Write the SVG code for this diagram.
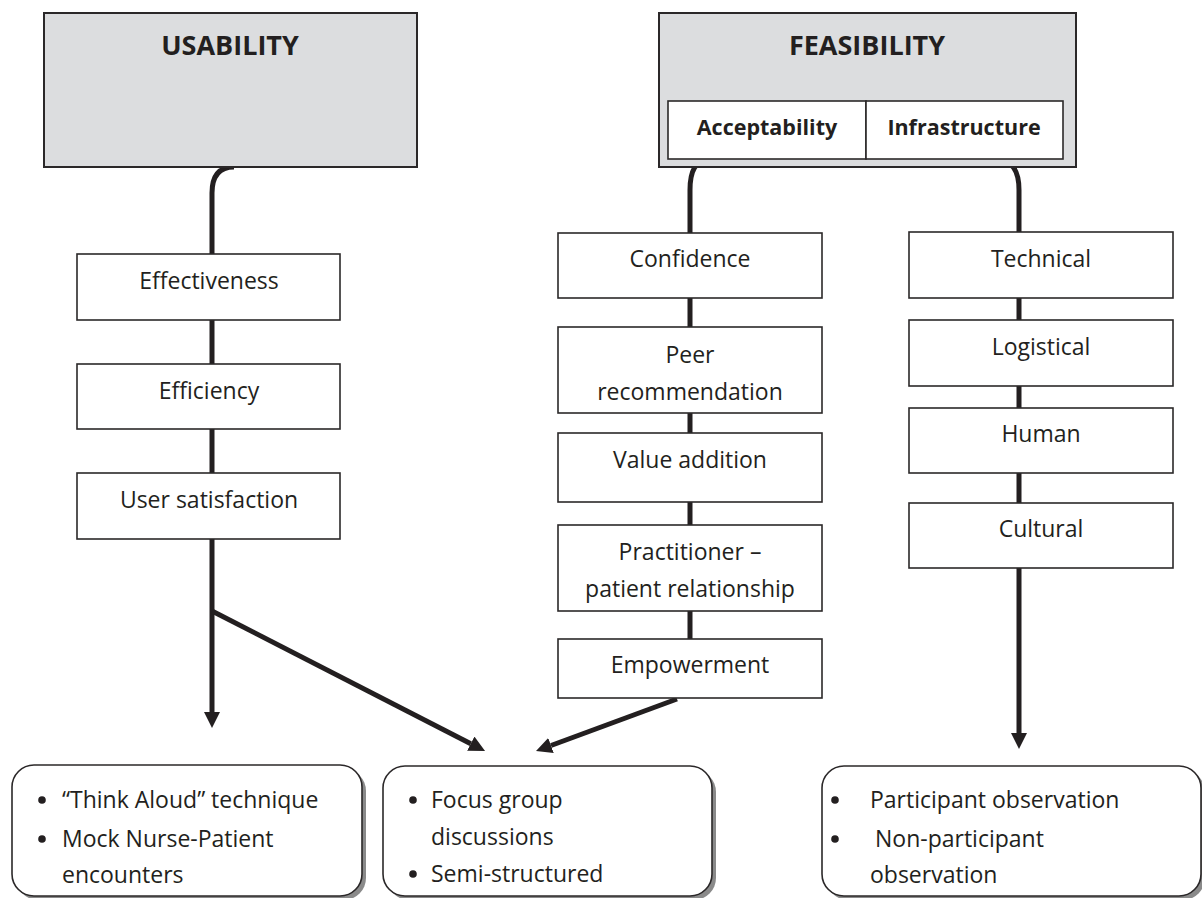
<svg xmlns="http://www.w3.org/2000/svg" width="1202" height="898" viewBox="0 0 1202 898">
<defs>
<style>
.hdr{fill:#dcdddf;stroke:#2b2829;stroke-width:2}
.box{fill:#ffffff;stroke:#2b2829;stroke-width:1.6}
.rbox{fill:#ffffff;stroke:#2b2829;stroke-width:1.6}
.shadow{fill:#8a8a8a}
.conn{fill:none;stroke:#231f20;stroke-width:5}
text{font-family:"Open Sans","Liberation Sans",sans-serif;fill:#231f20}
.t{font-size:23px;text-anchor:middle}
.b{font-size:23px}
.h1{font-size:27px;font-weight:bold;text-anchor:middle}
.h2{font-size:21.5px;font-weight:bold;text-anchor:middle}
.dot{fill:#231f20}
</style>
<marker id="ah" viewBox="0 0 16 16" refX="0" refY="8" markerWidth="16" markerHeight="16" markerUnits="userSpaceOnUse" orient="auto">
<path d="M0,0 L16,8 L0,16 Z" fill="#231f20"/>
</marker>
</defs>

<g id="connectors">
<path class="conn" d="M234,167 C219,167 212,176 212,193 V712" marker-end="url(#ah)"/>
<path class="conn" d="M212,611 L470.8,743.7" marker-end="url(#ah)"/>
<path class="conn" d="M708,160 C696,160 690,171 690,190 V640"/>
<path class="conn" d="M677,699 L551,745.5" marker-end="url(#ah)"/>
<path class="conn" d="M998,160 C1012,160 1019,171 1019,190 V733" marker-end="url(#ah)"/>
</g>

<g id="usability">
<rect class="hdr" x="44" y="13" width="373" height="154"/>
<text class="h1" x="230" y="55">USABILITY</text>
</g>

<g id="feasibility">
<rect class="hdr" x="659" y="13" width="417" height="154"/>
<text class="h1" x="867" y="55">FEASIBILITY</text>
<g id="acceptability">
<rect class="box" x="668" y="101" width="198" height="58"/>
<text class="h2" x="767" y="135">Acceptability</text>
</g>
<g id="infrastructure">
<rect class="box" x="866" y="101" width="197" height="58"/>
<text class="h2" x="964" y="135">Infrastructure</text>
</g>
</g>

<g id="effectiveness">
<rect class="box" x="77" y="254" width="263" height="66"/>
<text class="t" x="209" y="289">Effectiveness</text>
</g>
<g id="efficiency">
<rect class="box" x="77" y="364" width="263" height="65"/>
<text class="t" x="209" y="399">Efficiency</text>
</g>
<g id="user-satisfaction">
<rect class="box" x="77" y="473" width="263" height="66"/>
<text class="t" x="209" y="508">User satisfaction</text>
</g>

<g id="confidence">
<rect class="box" x="558" y="233" width="264" height="65"/>
<text class="t" x="690" y="267">Confidence</text>
</g>
<g id="peer-recommendation">
<rect class="box" x="558" y="327" width="264" height="86"/>
<text class="t" x="690" y="363">Peer</text>
<text class="t" x="690" y="400">recommendation</text>
</g>
<g id="value-addition">
<rect class="box" x="558" y="433" width="264" height="69"/>
<text class="t" x="690" y="468">Value addition</text>
</g>
<g id="practitioner">
<rect class="box" x="558" y="525" width="264" height="86"/>
<text class="t" x="690" y="560">Practitioner –</text>
<text class="t" x="690" y="597">patient relationship</text>
</g>
<g id="empowerment">
<rect class="box" x="558" y="639" width="264" height="59"/>
<text class="t" x="690" y="673">Empowerment</text>
</g>

<g id="technical">
<rect class="box" x="909" y="232" width="264" height="66"/>
<text class="t" x="1041" y="267">Technical</text>
</g>
<g id="logistical">
<rect class="box" x="909" y="320" width="264" height="66"/>
<text class="t" x="1041" y="355">Logistical</text>
</g>
<g id="human">
<rect class="box" x="909" y="408" width="264" height="65"/>
<text class="t" x="1041" y="442">Human</text>
</g>
<g id="cultural">
<rect class="box" x="909" y="503" width="264" height="65"/>
<text class="t" x="1041" y="537">Cultural</text>
</g>

<g id="methods-usability">
<rect class="shadow" x="16" y="769" width="350" height="131" rx="22"/>
<rect class="rbox" x="12" y="765" width="350" height="131" rx="22"/>
<circle class="dot" cx="42" cy="800" r="3.8"/>
<text class="b" x="62" y="808">“Think Aloud” technique</text>
<circle class="dot" cx="42" cy="839" r="3.8"/>
<text class="b" x="62" y="847">Mock Nurse-Patient</text>
<text class="b" x="62" y="883">encounters</text>
</g>

<g id="methods-acceptability">
<rect class="shadow" x="387" y="770" width="329" height="130" rx="22"/>
<rect class="rbox" x="383" y="766" width="329" height="130" rx="22"/>
<circle class="dot" cx="413" cy="800" r="3.8"/>
<text class="b" x="431" y="808">Focus group</text>
<text class="b" x="431" y="845">discussions</text>
<circle class="dot" cx="413" cy="874" r="3.8"/>
<text class="b" x="431" y="882">Semi-structured</text>
</g>

<g id="methods-infrastructure">
<rect class="shadow" x="826" y="770" width="379" height="130" rx="22"/>
<rect class="rbox" x="822" y="766" width="379" height="130" rx="22"/>
<circle class="dot" cx="835" cy="800" r="3.8"/>
<text class="b" x="870" y="808">Participant observation</text>
<circle class="dot" cx="835" cy="839" r="3.8"/>
<text class="b" x="875" y="847">Non-participant</text>
<text class="b" x="870" y="883">observation</text>
</g>
</svg>
